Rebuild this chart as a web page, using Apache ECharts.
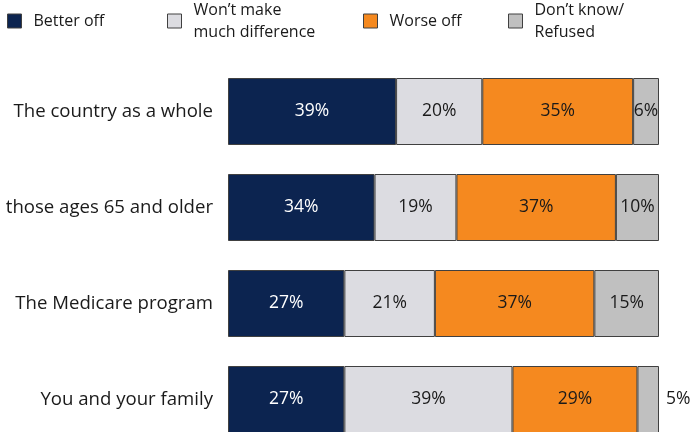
<!DOCTYPE html>
<html><head><meta charset="utf-8">
<script src="https://cdn.jsdelivr.net/npm/echarts@6/dist/echarts.min.js"></script>
<style>html,body{margin:0;padding:0;background:#fff}#c{width:691px;height:432px}</style>
</head><body><div id="c"></div>
<script>
const categories = ["The country as a whole", "Seniors, those ages 65 and older", "The Medicare program", "You and your family"];
const seriesNames = ["Better off", "Won\u2019t make\nmuch difference", "Worse off", "Don\u2019t know/\nRefused"];
const betterOff = [39, 34, 27, 27];
const noDifference = [20, 19, 21, 39];
const worseOff = [35, 37, 37, 29];
const dontKnow = [6, 10, 15, 5];

const colors = ["#0c2450", "#dcdce1", "#f5891f", "#c0c0c0"];
const labelColors = ["#ffffff", "#1a1a1a", "#1a1a1a", "#1a1a1a"];
const FONT = "Open Sans";
const values = [betterOff, noDifference, worseOff, dontKnow];

const chart = echarts.init(document.getElementById('c'), null, {renderer: 'canvas'});
const series = values.map((vals, i) => ({
  name: seriesNames[i],
  type: 'bar',
  stack: 'all',
  barWidth: 67,
  data: vals.map((v, j) => {
    const d = {value: v};
    if (i === 3 && v < 6) d.label = {position: 'right', distance: 7};
    return d;
  }),
  itemStyle: {color: colors[i], borderColor: '#404040', borderWidth: 1},
  label: {show: true, position: 'inside', formatter: '{c}%', color: labelColors[i], fontFamily: FONT, fontSize: 17.5},
  emphasis: {disabled: true},
  animation: false
}));
const legendLeft = [7, 167, 363, 508];
chart.setOption({
  animation: false,
  legend: seriesNames.map((n, i) => ({
    data: [n], left: legendLeft[i], top: i % 2 === 1 ? -1 : 10,
    padding: 0,
    itemWidth: 14, itemHeight: 14, itemGap: 0,
    icon: 'rect',
    itemStyle: {borderColor: '#404040', borderWidth: 1},
    textStyle: {fontFamily: FONT, fontSize: 16, color: '#1a1a1a', lineHeight: 22, padding: [0, 0, 0, 7]},
    selectedMode: false
  })),
  grid: {left: 228, top: 63.5, width: 431, height: 384, containLabel: false, outerBoundsMode: 'none'},
  xAxis: {type: 'value', min: 0, max: 100, show: false},
  yAxis: {
    type: 'category', data: categories, inverse: true,
    axisLine: {show: false}, axisTick: {show: false},
    axisLabel: {fontFamily: FONT, fontSize: 18.6, color: '#1a1a1a', margin: 15}
  },
  series: series
});
</script></body></html>
